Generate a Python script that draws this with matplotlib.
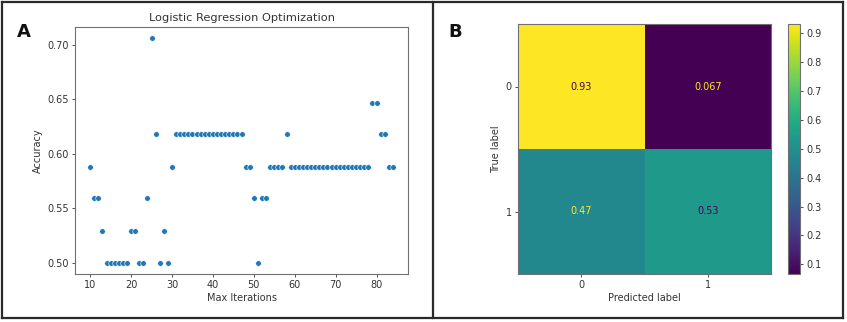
import numpy as np
import matplotlib
matplotlib.use('Agg')
import matplotlib.pyplot as plt
from matplotlib.lines import Line2D

# Data: logistic regression accuracy vs max iterations
max_iter = list(range(10, 85))
accuracy = [
    0.588, 0.559, 0.559, 0.529,                       # 10-13
    0.500, 0.500, 0.500, 0.500, 0.500, 0.500,         # 14-19
    0.529, 0.529, 0.500, 0.500, 0.559, 0.706,         # 20-25
    0.618, 0.500, 0.529, 0.500, 0.588,                # 26-30
] + [0.618] * 17 + [                                  # 31-47
    0.588, 0.588, 0.559, 0.500, 0.559, 0.559,         # 48-53
    0.588, 0.588, 0.588, 0.588, 0.618,                # 54-58
] + [0.588] * 20 + [                                  # 59-78
    0.647, 0.647, 0.618, 0.618, 0.588, 0.588,         # 79-84
]

# Confusion matrix (normalized)
cm = np.array([[0.93, 0.067],
               [0.47, 0.53]])
cm_labels = ['0.93', '0.067', '0.47', '0.53']
class_names = ['0', '1']

text_col = '#333333'
spine_col = '#707070'
plt.rcParams['font.family'] = 'DejaVu Sans'

fig = plt.figure(figsize=(8.47, 3.22), dpi=100)
W, H = 847, 322

def ax_rect(l, t, r, b):
    return [l / W, 1 - b / H, (r - l) / W, (b - t) / H]

# Panel A - scatter
ax1 = fig.add_axes(ax_rect(75, 27, 408, 274))
ax1.scatter(max_iter, accuracy, s=16, color='#1f77b4', edgecolor='white', linewidth=0.4, zorder=3)
ax1.set_title('Logistic Regression Optimization', fontsize=8.2, color=text_col, pad=4)
ax1.set_xlabel('Max Iterations', fontsize=7, color=text_col, labelpad=2)
ax1.set_ylabel('Accuracy', fontsize=7, color=text_col, labelpad=3)
ax1.set_xticks([10, 20, 30, 40, 50, 60, 70, 80])
ax1.set_yticks([0.50, 0.55, 0.60, 0.65, 0.70])
ax1.set_yticklabels(['0.50', '0.55', '0.60', '0.65', '0.70'])
ax1.tick_params(labelsize=7, colors=text_col, length=2.5, width=0.6, pad=2)
for sp in ax1.spines.values():
    sp.set_color(spine_col)
    sp.set_linewidth(0.8)

# Panel B - confusion matrix
ax2 = fig.add_axes(ax_rect(518, 24, 771, 274))
im = ax2.imshow(cm, cmap='viridis', aspect='auto')
cmap = plt.get_cmap('viridis')
thresh = (cm.max() + cm.min()) / 2
for i in range(2):
    for j in range(2):
        c = cmap(0.0) if cm[i, j] > thresh else cmap(1.0)
        ax2.text(j, i, cm_labels[i * 2 + j], ha='center', va='center', color=c, fontsize=7)
ax2.set_xticks([0, 1])
ax2.set_yticks([0, 1])
ax2.set_xticklabels(class_names)
ax2.set_yticklabels(class_names)
ax2.set_xlabel('Predicted label', fontsize=7, color=text_col, labelpad=2)
ax2.set_ylabel('True label', fontsize=7, color=text_col, labelpad=3)
ax2.tick_params(labelsize=7, colors=text_col, length=2.5, width=0.6, pad=2)
for sp in ax2.spines.values():
    sp.set_color(spine_col)
    sp.set_linewidth(0.8)

cax = fig.add_axes(ax_rect(788, 24, 800, 274))
cb = fig.colorbar(im, cax=cax)
cb.set_ticks([0.1, 0.2, 0.3, 0.4, 0.5, 0.6, 0.7, 0.8, 0.9])
cb.ax.tick_params(labelsize=7, colors=text_col, length=2.5, width=0.6, pad=2)
cb.outline.set_edgecolor(spine_col)
cb.outline.set_linewidth(0.8)

# Panel letters
fig.text(17 / W, 1 - 32 / H, 'A', fontsize=13, fontweight='bold', va='center', ha='left', color='#111111')
fig.text(448 / W, 1 - 32 / H, 'B', fontsize=13, fontweight='bold', va='center', ha='left', color='#111111')

# Panel borders
bc = '#2a2a2a'
bw = 1.6
def fline(x0, y0, x1, y1):
    fig.add_artist(Line2D([x0 / W, x1 / W], [1 - y0 / H, 1 - y1 / H], color=bc, linewidth=bw,
                          transform=fig.transFigure, solid_capstyle='projecting'))
fline(2, 2, 843, 2)
fline(2, 318, 843, 318)
fline(2, 2, 2, 318)
fline(843, 2, 843, 318)
fline(433, 2, 433, 318)

fig.savefig('out.png', dpi=100)
